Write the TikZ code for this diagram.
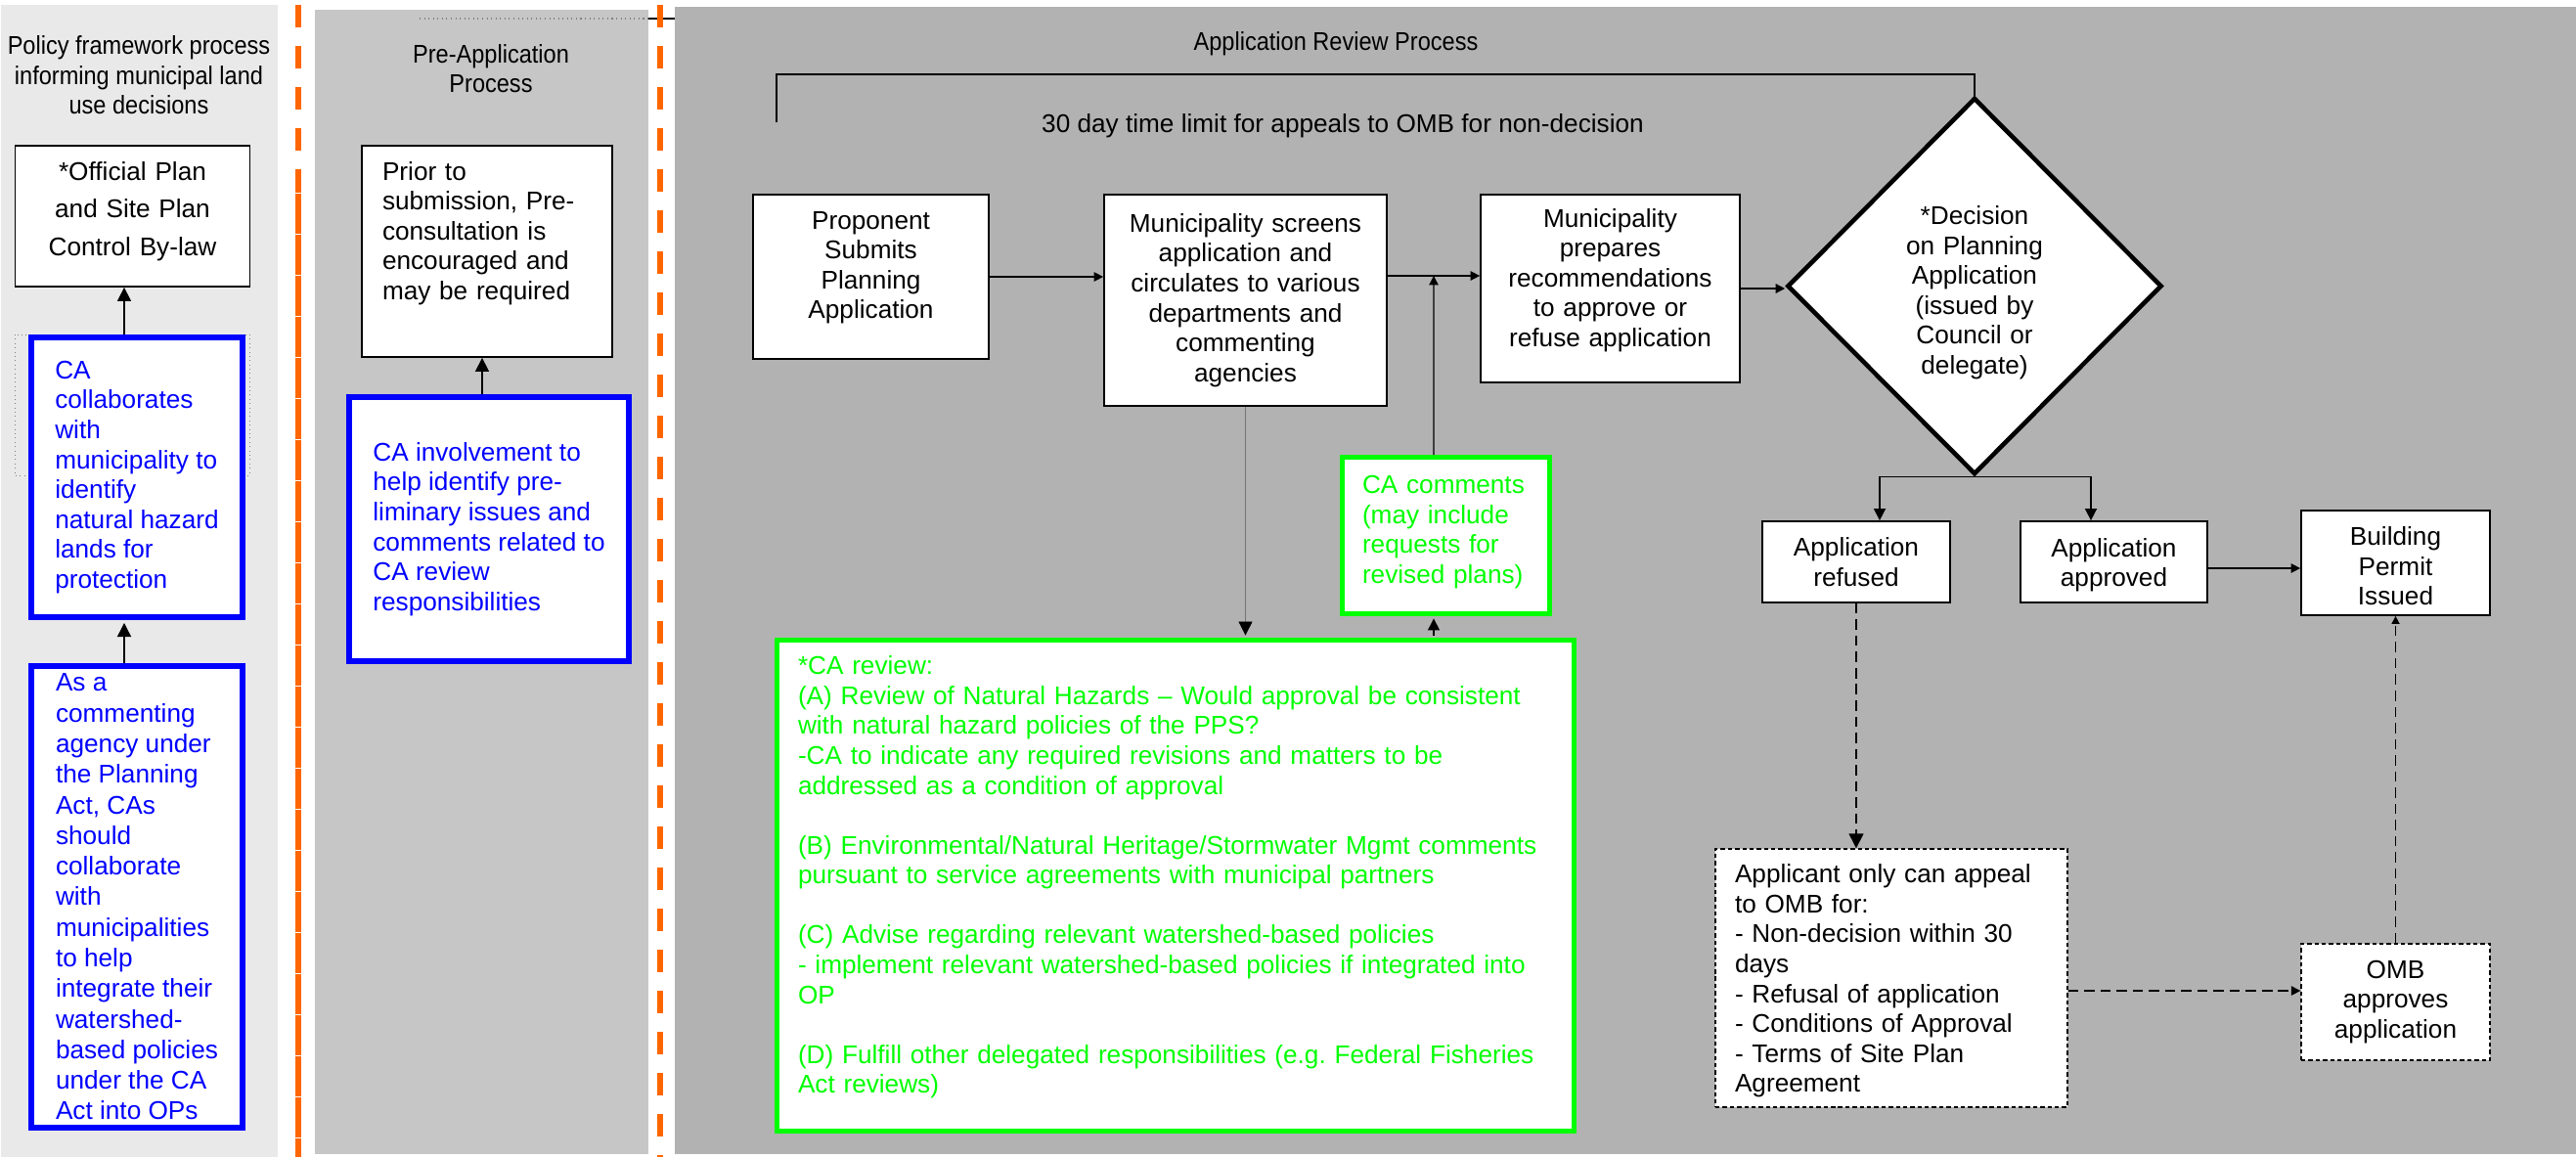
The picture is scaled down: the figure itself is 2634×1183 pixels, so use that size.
\documentclass[tikz,border=0pt]{standalone}
\usepackage{fontspec}
\setmainfont{Liberation Sans}
\newfontfamily\narrowfont[FakeStretch=0.9]{Liberation Sans}
\usetikzlibrary{arrows.meta,shapes.geometric}
\definecolor{leftbg}{HTML}{E9E9E9}
\definecolor{midbg}{HTML}{C6C6C6}
\definecolor{rightbg}{HTML}{B2B2B2}
\definecolor{divider}{HTML}{FF6600}
\definecolor{cablue}{HTML}{0000FF}
\definecolor{cagreen}{HTML}{00FF00}
% invisible strut line: at the end it lifts the text, at the start it drops it
\newcommand{\pad}[1]{\par\hrule height #1 depth 0pt width 0pt\relax}

\begin{document}
\begin{tikzpicture}[x=0.2mm, y=-0.2mm,
	every node/.style={font=\fontsize{14.9}{17.4}\selectfont},
	box/.style={draw, fill=white, line width=1pt, inner xsep=0pt, inner ysep=1pt, align=center},
	lbox/.style={box, align=left, inner xsep=#1},
	cabox/.style={draw=cablue, line width=3.4pt, fill=white, text=cablue, align=left, inner sep=0pt},
	greenbox/.style={box, draw=cagreen, line width=2.8pt, text=cagreen, align=left, inner xsep=4.1mm},
	dashbox/.style={box, dash pattern=on 2.5pt off 1.7pt, line width=0.8pt},
	title/.style={font=\narrowfont\fontsize{14.9}{17.4}\selectfont, align=center},
	flow/.style={line width=0.75pt, -{Triangle[length=#1,width=#1]}},
	flow/.default=5.4pt,
	dashflow/.style={flow=#1, dash pattern=on 6pt off 3.4pt},
	dashflow/.default=5.4pt]
	\useasboundingbox (0,0) rectangle (2634,1183);
	% the three lanes
	\fill[leftbg] (1,5) rectangle (284,1183);
	\fill[midbg] (322,10) rectangle (663,1180);
	\fill[rightbg] (690,7) rectangle (2634,1180);
	\draw[gray, dotted, line width=0.6pt] (429,19) -- (663,19);
	\draw[line width=1pt] (663,19) -- (690,19);
	\draw[divider, line width=3.4pt, dash pattern=on 13.1pt off 10.8pt] (305,5) -- (305,175);
	\draw[divider, line width=3.4pt, dash pattern=on 23.3pt off 0.6pt, dash phase=11pt] (305,175) -- (305,1183);
	\draw[divider, line width=3.4pt, dash pattern=on 13.1pt off 10.8pt] (675,5) -- (675,1183);
	% lane headings
	\node[title] (policyhead) at (142,77) {Policy framework process\\informing municipal land\\use decisions};
	\node[title] (prehead) at (502,70) {Pre-Application\\Process};
	\node[title] (reviewhead) at (1366,45) {Application Review Process};
	\node (limitnote) at (1373,129) {30 day time limit for appeals to OMB for non-decision};
	% policy lane
	\node[box, text width=48mm, minimum height=28.8mm, font=\fontsize{14.9}{22}\selectfont] (official) at (135.5,221) {*Official Plan\\and Site Plan\\Control By-law\pad{2mm}};
	\draw[gray, dotted, line width=0.5pt] (15,342) rectangle (255,486);
	\node[cabox, minimum width=43.2mm, minimum height=57.2mm] (collab) at (140,488) {CA\\collaborates\\with\\municipality to\\identify\\natural hazard\\lands for\\protection};
	\node[cabox, minimum width=43.2mm, minimum height=94.4mm, font=\fontsize{14.9}{17.8}\selectfont] (agency) at (140,917) {As a\\commenting\\agency under\\the Planning\\Act, CAs\\should\\collaborate\\with\\municipalities\\to help\\integrate their\\watershed-\\based policies\\under the CA\\Act into OPs};
	% pre-application lane
	\node[lbox=4.2mm, text width=42.8mm, minimum height=43.2mm] (prior) at (498,257) {Prior to\\submission, Pre-\\consultation is\\encouraged and\\may be required\pad{7.4mm}};
	\node[cabox, minimum width=57.1mm, minimum height=53.9mm] (involve) at (500,541) {CA involvement to\\help identify pre-\\liminary issues and\\comments related to\\CA review\\responsibilities};
	% application review lane
	\node[box, text width=48.2mm, minimum height=33.6mm] (proponent) at (890.5,283) {Proponent\\Submits\\Planning\\Application\pad{3.7mm}};
	\node[box, text width=57.8mm, minimum height=43.2mm] (screens) at (1273.5,307) {Municipality screens\\application and\\circulates to various\\departments and\\commenting\\agencies};
	\node[box, text width=53mm, minimum height=38.4mm] (prepares) at (1646.5,295) {Municipality\\prepares\\recommendations\\to approve or\\refuse application\pad{3.4mm}};
	\node[draw, fill=white, shape=diamond, line width=2.6pt, minimum width=76.6mm, minimum height=77mm, inner sep=0pt, text width=32mm, align=center] (decision) at (2019,292.5) {\pad{2.7mm}*Decision\\on Planning\\Application\\(issued by\\Council or\\delegate)};
	\node[box, text width=38.4mm, minimum height=16.6mm] (refused) at (1898,574.5) {Application\\refused};
	\node[box, text width=38.2mm, minimum height=16.6mm] (approved) at (2161.5,574.5) {\pad{1.3mm}Application\\approved};
	\node[box, text width=38.6mm, minimum height=21.4mm] (permit) at (2449.5,575.5) {\pad{1.3mm}Building\\Permit\\Issued};
	\node[dashbox, align=left, inner xsep=4mm, text width=64mm, minimum height=52.8mm] (appeal) at (1934,1000) {\pad{1.2mm}Applicant only can appeal\\to OMB for:\\- Non-decision within 30\\days\\- Refusal of application\\- Conditions of Approval\\- Terms of Site Plan\\Agreement};
	\node[dashbox, text width=38.6mm, minimum height=23.8mm] (omb) at (2449.5,1024.5) {OMB\\approves\\application};
	\node[greenbox, text width=34.2mm, minimum height=32mm] (comments) at (1478.5,547.5) {CA comments\\(may include\\requests for\\revised plans)\pad{1.4mm}};
	\node[greenbox, inner xsep=4.3mm, text width=154.4mm, minimum height=100.4mm] (careview) at (1202,905.5) {*CA review:\\(A) Review of Natural Hazards -- Would approval be consistent\\with natural hazard policies of the PPS?\\-CA to indicate any required revisions and matters to be\\addressed as a condition of approval\\[17.4pt](B) Environmental/Natural Heritage/Stormwater Mgmt comments\\pursuant to service agreements with municipal partners\\[17.4pt](C) Advise regarding relevant watershed-based policies\\- implement relevant watershed-based policies if integrated into\\OP\\[17.4pt](D) Fulfill other delegated responsibilities (e.g.\ Federal Fisheries\\Act reviews)\pad{3.4mm}};
	% connectors
	\coordinate (merge) at (1466,282);
	\coordinate (limit) at (794,125);
	\coordinate (bar) at (2019,76);
	\draw[flow=8pt] ([xshift=-2.6mm]collab.north) -- ([xshift=-2.6mm]collab.north |- official.south);
	\draw[flow=8pt, shorten >=1.7pt] ([xshift=-2.6mm]agency.north) -- ([xshift=-2.6mm]agency.north |- collab.south);
	\draw[flow=8pt] ([xshift=-1.4mm]involve.north) -- ([xshift=-1.4mm]involve.north |- prior.south);
	\draw[flow] (proponent.east) -- (proponent.east -| screens.west);
	\draw[flow] (screens.east |- merge) -- (prepares.west |- merge);
	\draw[flow] (prepares.east) -- (prepares.east -| decision.west);
	\draw[black!55, line width=0.5pt, shorten >=1.4pt, -{Triangle[length=8pt,width=8pt,color=black]}] (screens.south) -- (screens.south |- careview.north);
	\draw[flow=6.8pt, shorten <=1.4pt, shorten >=1.4pt] ([xshift=-2.5mm]comments.south |- careview.north) -- ([xshift=-2.5mm]comments.south);
	\draw[flow] ([xshift=-2.5mm]comments.north) -- (merge);
	\draw[line width=0.9pt] (limit) |- (bar) -- (decision.north);
	\draw[flow=6.8pt] (decision.south) -| ([xshift=4.8mm]refused.north);
	\draw[flow=6.8pt] (decision.south) -| ([xshift=-4.7mm]approved.north);
	\draw[flow] ([yshift=-1.3mm]approved.east) -- ([yshift=-1.3mm]approved.east -| permit.west);
	\draw[dashflow=8.5pt] (refused.south) -- (refused.south |- appeal.north);
	\draw[dashflow] ([yshift=-2.6mm]appeal.east) -- ([yshift=-2.6mm]appeal.east -| omb.west);
	\draw[dashflow=4.6pt] (omb.north) -- (omb.north |- permit.south);
\end{tikzpicture}
\end{document}
